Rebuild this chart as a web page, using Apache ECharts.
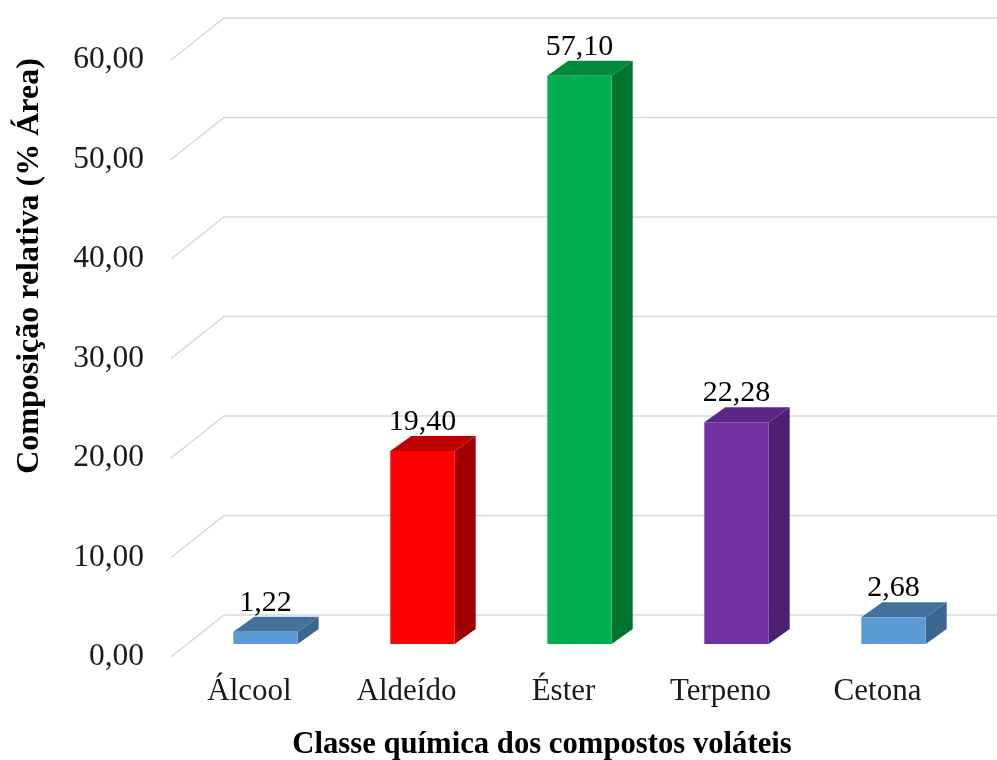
<!DOCTYPE html>
<html>
<head>
<meta charset="utf-8">
<script src="https://cdn.jsdelivr.net/npm/echarts@6/dist/echarts.min.js"></script>
<style>
  html, body { margin: 0; padding: 0; background: #fff; }
  #chart { width: 997px; height: 760px; }
</style>
</head>
<body>
<div id="chart"></div>
<script>
// categorias e valores (% área)
var categorias = ['Álcool', 'Aldeído', 'Éster', 'Terpeno', 'Cetona'];
var valores = [1.22, 19.40, 57.10, 22.28, 2.68];
var marcasY = [0, 10, 20, 30, 40, 50, 60];

// cores: frente, topo, lateral
var corFrente = ['#5B9BD5', '#FF0000', '#00B050', '#7030A0', '#5B9BD5'];
var corTopo = ['#41719C', '#C00000', '#008A3E', '#5B2784', '#41719C'];
var corLado = ['#3A6690', '#A00000', '#007530', '#4B2070', '#3A6690'];

var FONTE = '"Liberation Serif", "Times New Roman", serif';
var fmt = function (v) { return v.toFixed(2).replace('.', ','); };

// perspectiva do piso
var PISO_DX = 53, PISO_DY = -42;   // fundo da parede
var BARRA_DX = 16, BARRA_DY = -13; // posição da frente da barra
var PROF_DX = 21, PROF_DY = -15;   // profundidade da barra

var chart = echarts.init(document.getElementById('chart'));

var option = {
  backgroundColor: '#fff',
  animation: false,
  grid: { left: 171, right: 41, top: 60, bottom: 103 },
  xAxis: {
    type: 'category',
    data: categorias,
    axisLine: { show: false },
    axisTick: { show: false },
    axisLabel: { margin: 19, fontFamily: FONTE, fontSize: 31, color: '#1a1a1a' }
  },
  yAxis: {
    type: 'value',
    min: 0, max: 60, interval: 10,
    axisLine: { show: false },
    axisTick: { show: false },
    splitLine: { show: false },
    axisLabel: { margin: 27, fontFamily: FONTE, fontSize: 31.5, color: '#1a1a1a', formatter: fmt }
  },
  graphic: [
    {
      type: 'text', x: 30, y: 266, rotation: Math.PI / 2,
      style: { text: 'Composição relativa (% Área)', font: 'bold 32px ' + FONTE, fill: '#000', align: 'center', verticalAlign: 'middle' }
    },
    {
      type: 'text', x: 542, y: 745,
      style: { text: 'Classe química dos compostos voláteis', font: 'bold 30.7px ' + FONTE, fill: '#000', align: 'center', verticalAlign: 'middle' }
    }
  ],
  series: [
    {
      // linhas de grade em perspectiva
      type: 'custom',
      silent: true,
      z: 1,
      data: marcasY.map(function (v) { return [0, v]; }),
      renderItem: function (params, api) {
        var p = api.coord([0, api.value(1)]);
        var x0 = params.coordSys.x;
        var y0 = p[1];
        return {
          type: 'polyline',
          shape: { points: [[x0, y0], [x0 + PISO_DX, y0 + PISO_DY], [api.getWidth(), y0 + PISO_DY]] },
          style: { stroke: '#D9D9D9', lineWidth: 1.5, fill: null }
        };
      }
    },
    {
      // barras 3D
      type: 'custom',
      z: 2,
      data: valores.map(function (v, i) { return [i, v]; }),
      renderItem: function (params, api) {
        var i = api.value(0);
        var base = api.coord([i, 0]);
        var topo = api.coord([i, api.value(1)]);
        var larg = api.size([1, 0])[0] * 0.41;
        var xl = base[0] - larg / 2 + BARRA_DX;
        var xr = xl + larg;
        var yb = base[1] + BARRA_DY;
        var yt = topo[1] + BARRA_DY;
        return {
          type: 'group',
          children: [
            {
              type: 'polygon',
              shape: { points: [[xr, yb], [xr + PROF_DX, yb + PROF_DY], [xr + PROF_DX, yt + PROF_DY], [xr, yt]] },
              style: { fill: corLado[i] }
            },
            {
              type: 'polygon',
              shape: { points: [[xl, yt], [xr, yt], [xr + PROF_DX, yt + PROF_DY], [xl + PROF_DX, yt + PROF_DY]] },
              style: { fill: corTopo[i] }
            },
            {
              type: 'rect',
              shape: { x: xl, y: yt, width: larg, height: yb - yt },
              style: { fill: corFrente[i] }
            },
            {
              type: 'text',
              x: (xl + xr) / 2, y: yt + PROF_DY - 14,
              style: { text: fmt(api.value(1)), font: '30px ' + FONTE, fill: '#000', align: 'center', verticalAlign: 'middle' }
            }
          ]
        };
      }
    }
  ]
};

chart.setOption(option);
</script>
</body>
</html>
